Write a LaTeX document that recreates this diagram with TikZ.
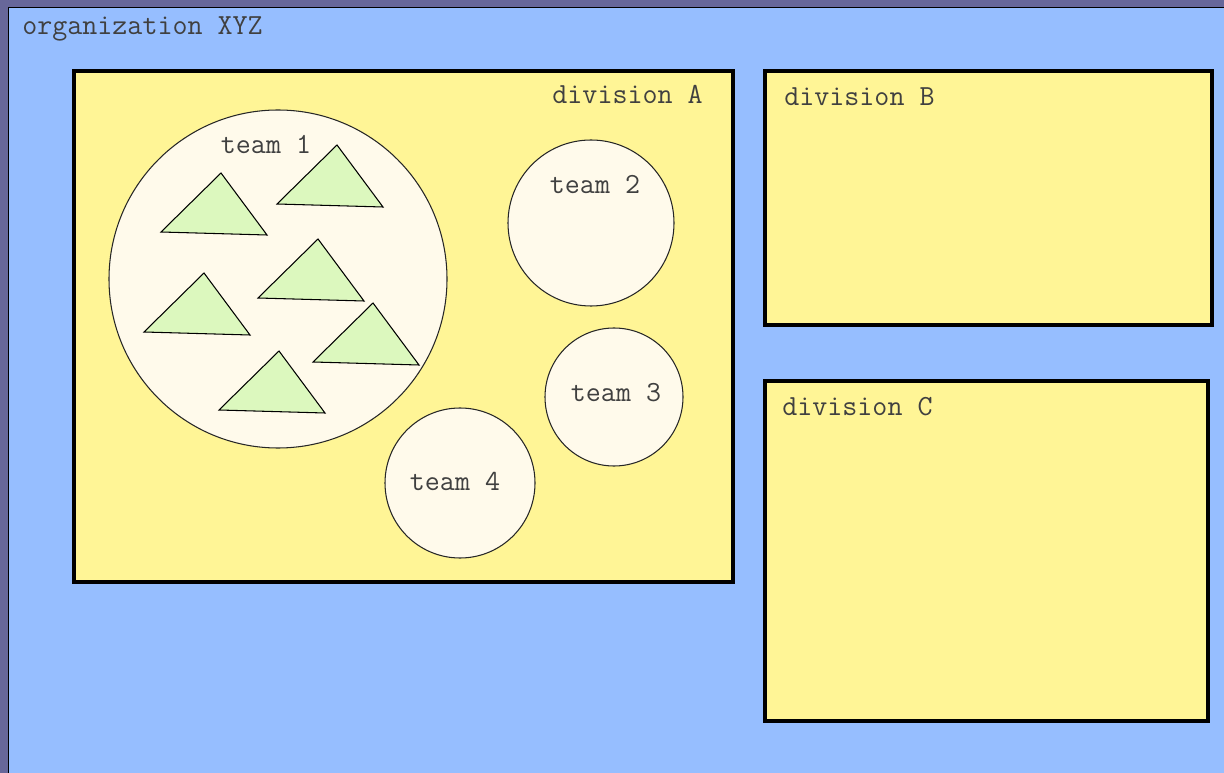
\documentclass[tikz,border=0pt]{standalone}
\usepackage{fontspec}
\definecolor{frameviolet}{RGB}{103,103,154}
\definecolor{orgblue}{RGB}{150,190,255}
\definecolor{divyellow}{RGB}{255,245,150}
\definecolor{teamcream}{RGB}{255,250,235}
\definecolor{membergreen}{RGB}{220,248,190}
\tikzset{
  division/.style={fill=divyellow, draw=black, line width=1.9pt},
  team/.style={fill=teamcream, draw=black!85, line width=0.6pt},
  member/.style={fill=membergreen, draw=black, line width=0.6pt, line join=miter},
  lbl/.style={inner sep=0pt, text=black!75, font=\ttfamily\fontsize{16.6}{18}\selectfont}
}
\begin{document}
\begin{tikzpicture}[x=0.02cm, y=-0.02cm]
        \useasboundingbox (0,0) rectangle (1224,773);
        \clip (0,0) rectangle (1224,773);
        % Organization
        \fill[frameviolet] (0,0) rectangle (1224,773);
        \fill[orgblue] (8,7) rectangle (1230,780);
        \draw[black, line width=1.1pt] (8.5,790) -- (8.5,7.5) -- (1235,7.5);
        \node[lbl, anchor=base west] (org) at (22,35) {organization XYZ};

        % Divisions
        \draw[division] (74,71) rectangle (733,582);
        \node[lbl, anchor=base east] (divA) at (703,104) {division A};
        \draw[division] (765,71) rectangle (1212,325);
        \node[lbl, anchor=base west] (divB) at (784,106) {division B};
        \draw[division] (765,381) rectangle (1208,721);
        \node[lbl, anchor=base west] (divC) at (782,416) {division C};

        % Teams
        \draw[team] (278,279) circle (169);
        \node[lbl, anchor=base] (team1) at (266,154) {team 1};
        \draw[team] (591,223) circle (83);
        \node[lbl, anchor=base] (team2) at (595,194) {team 2};
        \draw[team] (614,397) circle (69);
        \node[lbl, anchor=base] (team3) at (616,402) {team 3};
        \draw[team] (460,483) circle (75);
        \node[lbl, anchor=base] (team4) at (455,490) {team 4};

        % Members of team 1
        \foreach \ax/\ay in {221/173, 337/145, 318/239, 204/273, 373/303, 279/351} {
            \draw[member] (\ax,\ay) -- ++(-60,59) -- ++(106,3) -- cycle;
        }
    \end{tikzpicture}
\end{document}
